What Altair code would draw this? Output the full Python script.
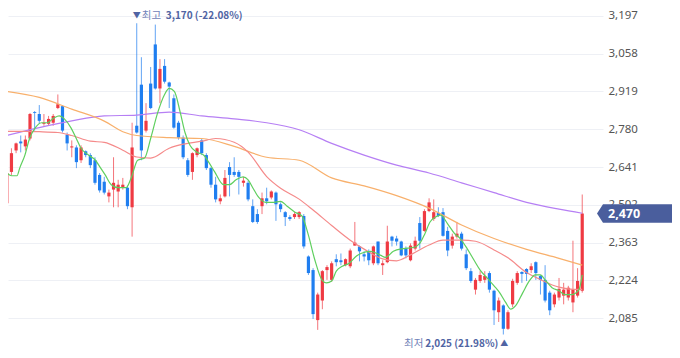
import altair as alt
import pandas as pd

# ---- candles (index order, oldest -> newest) ----
opens = [2508, 2623, 2702, 2735, 2717, 2746, 2843, 2836, 2800, 2800,
         2804, 2858, 2865, 2760, 2713, 2713, 2666, 2699, 2685, 2666,
         2612, 2587, 2533, 2558, 2551, 2565, 2565, 2493, 2793, 2944,
         2775, 2948, 3092, 2930, 3013, 2952, 2894, 2804, 2749, 2666,
         2623, 2685, 2739, 2685, 2637, 2576, 2515, 2533, 2641, 2623,
         2623, 2583, 2583, 2497, 2468, 2497, 2526, 2529, 2547, 2504,
         2475, 2457, 2457, 2457, 2461, 2312, 2262, 2078, 2150, 2262,
         2226, 2302, 2298, 2280, 2276, 2352, 2349, 2320, 2331, 2287,
         2367, 2280, 2291, 2385, 2378, 2367, 2341, 2298, 2341, 2435,
         2406, 2479, 2450, 2472, 2475, 2406, 2352, 2385, 2396, 2320,
         2258, 2190, 2222, 2226, 2251, 2186, 2107, 2132, 2046, 2136,
         2215, 2255, 2266, 2262, 2291, 2240, 2226, 2179, 2136, 2161,
         2168, 2161, 2143, 2168, 2186]
highs = [2625, 2710, 2731, 2757, 2757, 2840, 2847, 2869, 2836, 2829,
         2836, 2908, 2869, 2768, 2739, 2721, 2721, 2702, 2692, 2677,
         2619, 2605, 2558, 2677, 2594, 2601, 2573, 2804, 3170, 3045,
         2876, 3009, 3165, 3038, 3038, 2955, 2908, 2811, 2757, 2674,
         2695, 2713, 2746, 2692, 2641, 2605, 2540, 2630, 2659, 2677,
         2630, 2605, 2591, 2522, 2486, 2547, 2565, 2555, 2551, 2511,
         2479, 2464, 2475, 2479, 2468, 2316, 2269, 2179, 2262, 2280,
         2294, 2320, 2323, 2305, 2341, 2439, 2352, 2331, 2338, 2352,
         2367, 2298, 2425, 2388, 2388, 2370, 2349, 2360, 2385, 2457,
         2486, 2526, 2522, 2493, 2490, 2421, 2396, 2439, 2403, 2338,
         2269, 2233, 2258, 2258, 2258, 2190, 2161, 2136, 2114, 2230,
         2258, 2258, 2269, 2287, 2294, 2244, 2280, 2186, 2179, 2233,
         2215, 2204, 2370, 2269, 2540]
lows = [2468, 2612, 2692, 2695, 2702, 2739, 2775, 2800, 2793, 2793,
        2793, 2854, 2768, 2702, 2677, 2637, 2656, 2677, 2637, 2576,
        2547, 2540, 2511, 2493, 2493, 2558, 2486, 2385, 2764, 2666,
        2768, 2854, 2926, 2876, 2948, 2858, 2782, 2742, 2670, 2605,
        2594, 2677, 2685, 2630, 2565, 2511, 2504, 2529, 2533, 2605,
        2540, 2569, 2515, 2435, 2432, 2468, 2504, 2522, 2443, 2475,
        2424, 2443, 2450, 2450, 2341, 2244, 2082, 2042, 2118, 2226,
        2219, 2276, 2280, 2276, 2269, 2352, 2294, 2294, 2280, 2280,
        2280, 2244, 2287, 2349, 2352, 2313, 2305, 2294, 2334, 2341,
        2403, 2475, 2443, 2457, 2385, 2313, 2341, 2378, 2334, 2262,
        2215, 2172, 2215, 2215, 2179, 2060, 2071, 2025, 2042, 2125,
        2208, 2215, 2222, 2251, 2226, 2172, 2143, 2096, 2125, 2150,
        2136, 2150, 2107, 2161, 2179]
closes = [2619, 2692, 2728, 2728, 2742, 2836, 2840, 2811, 2804, 2818,
          2829, 2872, 2775, 2728, 2717, 2659, 2713, 2685, 2648, 2583,
          2555, 2547, 2547, 2583, 2576, 2576, 2497, 2713, 2768, 2702,
          2811, 2858, 2930, 3002, 2955, 2937, 2786, 2749, 2677, 2612,
          2692, 2710, 2692, 2637, 2576, 2522, 2526, 2601, 2612, 2612,
          2605, 2591, 2522, 2439, 2439, 2526, 2515, 2551, 2504, 2486,
          2457, 2450, 2468, 2475, 2349, 2251, 2100, 2172, 2258, 2273,
          2287, 2291, 2291, 2302, 2334, 2363, 2331, 2312, 2298, 2349,
          2287, 2287, 2367, 2370, 2367, 2316, 2316, 2352, 2370, 2370,
          2479, 2511, 2475, 2461, 2388, 2334, 2385, 2396, 2341, 2269,
          2222, 2226, 2244, 2240, 2190, 2114, 2150, 2046, 2107, 2222,
          2251, 2248, 2248, 2276, 2251, 2226, 2150, 2114, 2172, 2193,
          2190, 2197, 2190, 2222, 2470]

# ---- moving averages ----
ma5_idx = [0, 1.1, 2.2, 2.8, 3.9, 4.9, 6.0, 7.5, 8.7, 10.2, 11.3, 12.4, 13.8, 14.9, 16.0,
           17.6, 19.1, 20.2, 21.2, 22.5, 24.0, 25.7, 26.8, 28.2, 29.7, 31.0, 32.5, 34.0,
           35.0, 36.1, 37.4, 38.4, 39.5, 41.0, 42.4, 43.5, 44.8, 46.7, 48.0, 49.4, 50.9,
           52.0, 53.0, 54.3, 55.8, 57.3, 59.0, 60.4, 62.1, 63.6, 64.9, 66.4, 67.9, 68.9,
           70.0, 71.0, 72.3, 73.8, 75.3, 76.3, 78.4, 80.6, 81.6, 83.3, 85.4, 87.6, 89.0,
           90.1, 91.2, 92.4, 93.5, 95.0, 96.5, 97.7, 99.2, 100.7, 102.0, 103.5, 105.0,
           106.2, 107.5, 108.6, 109.7, 111.2, 112.6, 113.9, 115.0, 116.0, 117.5, 119.0,
           120.3, 121.8, 123.3, 124.0]
ma5_val = [2619, 2609, 2609, 2638, 2685, 2746, 2782, 2804, 2804, 2822, 2829, 2818, 2786,
           2749, 2710, 2685, 2666, 2638, 2612, 2576, 2565, 2565, 2601, 2666, 2674, 2746,
           2840, 2908, 2930, 2919, 2840, 2768, 2720, 2695, 2685, 2659, 2623, 2576, 2576,
           2594, 2605, 2594, 2565, 2529, 2511, 2511, 2515, 2497, 2475, 2461, 2396, 2298,
           2226, 2215, 2222, 2258, 2276, 2287, 2313, 2323, 2331, 2316, 2309, 2331, 2341,
           2345, 2360, 2396, 2439, 2457, 2464, 2432, 2396, 2378, 2341, 2298, 2262, 2233,
           2204, 2179, 2143, 2118, 2132, 2179, 2222, 2244, 2244, 2226, 2197, 2186, 2172,
           2172, 2190, 2244]

ma20_idx = [0, 4, 7, 11, 14, 18, 21, 25, 28, 31, 35, 38, 42, 45, 49, 52, 56, 59, 63, 66,
            70, 74, 77, 81, 84, 87, 91, 94, 98, 101, 105, 108, 112, 115, 119, 122, 124]
ma20_val = [2772, 2772, 2771, 2768, 2757, 2736, 2732, 2703, 2678, 2674, 2710, 2725, 2736,
            2746, 2732, 2696, 2606, 2563, 2523, 2483, 2426, 2372, 2339, 2303, 2296, 2318,
            2354, 2372, 2372, 2368, 2336, 2307, 2253, 2227, 2199, 2191, 2191]

ma60_idx = [0, 7, 14, 21, 25, 28, 35, 42, 49, 56, 63, 70, 77, 84, 91, 98, 105, 112, 119, 124]
ma60_val = [2919, 2897, 2854, 2810, 2771, 2757, 2749, 2746, 2717, 2677, 2666, 2601, 2572,
            2536, 2490, 2428, 2378, 2338, 2305, 2280]

ma120_idx = [0, 7, 14, 21, 28, 35, 42, 49, 56, 63, 70, 77, 84, 91, 98, 105, 112, 119, 124]
ma120_val = [2757, 2786, 2811, 2829, 2832, 2843, 2829, 2818, 2804, 2778, 2728, 2685, 2648,
             2619, 2583, 2547, 2511, 2486, 2471]

tick_values = [2085, 2224, 2363, 2502, 2641, 2780, 2919, 3058, 3197]

hi_index = [28]
hi_value = [3170]
hi_text = ["▼", "최고", "3,170 (-22.08%)"]
lo_index = [107]
lo_value = [2025]
lo_text = ["최저", "2,025 (21.98%)", "▲"]
last_value = [2470]
last_text = ["2,470"]

RED = "#ef3a43"
BLUE = "#1f7ef0"
LABEL_LIGHT = "#7182b8"
LABEL_BOLD = "#5064a3"
KFONT = "Noto Sans CJK KR"

candles = pd.DataFrame({"i": list(range(len(opens))), "o": opens, "h": highs,
                        "l": lows, "c": closes})

xs = alt.Scale(domain=[1.335, 127.4], nice=False, zero=False)
ys = alt.Scale(domain=[1968, 3226], nice=False, zero=False)
X = alt.X("i:Q", scale=xs, axis=None)

yaxis = alt.Axis(orient="right", values=tick_values, labelExpr="format(datum.value, ',')",
                 domain=False, ticks=False, labelPadding=5, labelColor="#555555",
                 labelFont="Noto Sans", labelFontSize=11.5, gridColor="#eef0f5",
                 gridWidth=1, title=None, labelBound=False, labelFlush=False)

color = alt.condition("datum.c >= datum.o", alt.value(RED), alt.value(BLUE))

wick = alt.Chart(candles).mark_rule(strokeWidth=1, opacity=0.7, clip=True).encode(
    x=X, y=alt.Y("l:Q", scale=ys, axis=yaxis), y2="h:Q", color=color)
body = alt.Chart(candles).mark_bar(size=3.2, clip=True).encode(
    x=X, y=alt.Y("o:Q", scale=ys), y2="c:Q", color=color)


def ma_line(idx, vals, col):
    d = pd.DataFrame({"i": idx, "v": vals})
    return alt.Chart(d).mark_line(color=col, strokeWidth=1.2, interpolate="monotone",
                                  clip=True).encode(x=X, y=alt.Y("v:Q", scale=ys))


l120 = ma_line(ma120_idx, ma120_val, "#b67ff4")
l60 = ma_line(ma60_idx, ma60_val, "#f8b06c")
l20 = ma_line(ma20_idx, ma20_val, "#f58a8a")
l5 = ma_line(ma5_idx, ma5_val, "#5fcf5f")


def note(df, txt, align, dx, dy, size, weight, col):
    return alt.Chart(df).mark_text(align=align, baseline="middle", dx=dx, dy=dy, font=KFONT,
                                   fontSize=size, fontWeight=weight, color=col,
                                   text=txt).encode(x=X, y=alt.Y("v:Q", scale=ys))


hi_df = pd.DataFrame({"i": hi_index, "v": hi_value})
lo_df = pd.DataFrame({"i": lo_index, "v": lo_value})
hi0 = note(hi_df, hi_text[0], "center", 0, -7, 8, "normal", LABEL_BOLD)
hi1 = note(hi_df, hi_text[1], "left", 5, -7, 10.5, "normal", LABEL_LIGHT)
hi2 = note(hi_df, hi_text[2], "left", 29, -7, 10, "bold", LABEL_BOLD)
lo1 = note(lo_df, lo_text[0], "right", -80, 9, 10.5, "normal", LABEL_LIGHT)
lo2 = note(lo_df, lo_text[1], "right", -5, 9, 10, "bold", LABEL_BOLD)
lo3 = note(lo_df, lo_text[2], "center", 1, 9, 8, "normal", LABEL_BOLD)

last_df = pd.DataFrame({"v": last_value, "t": last_text})
badge_path = "M -1 0 L -0.84 -0.247 L 1 -0.247 L 1 0.247 L -0.84 0.247 Z"
badge = alt.Chart(last_df).mark_point(shape=badge_path, filled=True, size=5625,
                                      color="#4a5e9d", opacity=1, strokeWidth=0).encode(
    x=alt.value(626.5), y=alt.Y("v:Q", scale=ys))
badge_txt = alt.Chart(last_df).mark_text(align="left", baseline="middle", color="white",
                                         font="Noto Sans", fontSize=12.5,
                                         fontWeight="bold").encode(
    x=alt.value(600), y=alt.Y("v:Q", scale=ys), text="t:N")

chart = alt.layer(wick, body, l120, l60, l20, l5, hi0, hi1, hi2, lo1, lo2, lo3, badge,
                  badge_txt).properties(
    width=595, height=342,
    autosize=alt.AutoSizeParams(type="none"),
    padding={"left": 0, "top": 0, "right": 69, "bottom": 0},
    background="white",
).configure_view(stroke=None)

chart.save("out.html", embed_options={"renderer": "svg", "actions": False})
